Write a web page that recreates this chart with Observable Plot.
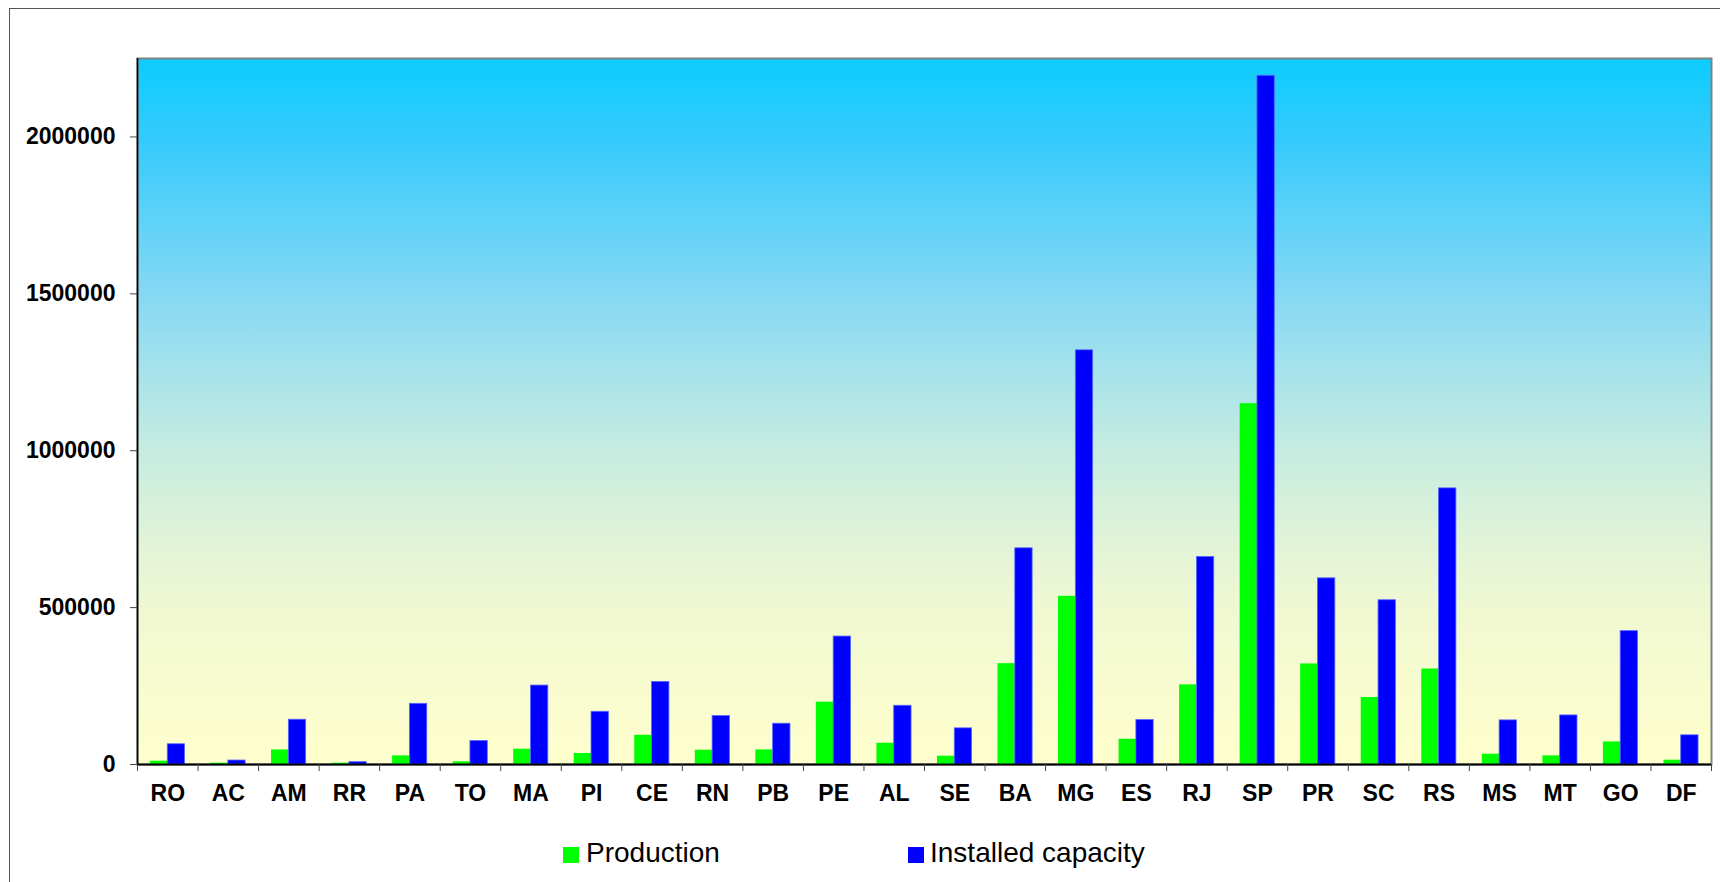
<!DOCTYPE html>
<html>
<head>
<meta charset="utf-8">
<script src="https://cdn.jsdelivr.net/npm/d3@7"></script>
<script src="https://cdn.jsdelivr.net/npm/@observablehq/plot@0.6"></script>
<style>
  html, body { margin: 0; padding: 0; background: #fff; }
  #page { position: relative; width: 1720px; height: 882px; overflow: hidden; font-family: "Liberation Sans", Arial, sans-serif; }
  #outer { position: absolute; left: 9px; top: 8px; width: 1720px; height: 900px; border-left: 1px solid #555; border-top: 1px solid #555; box-sizing: border-box; }
  #chart { position: absolute; left: 0; top: 0; }
  .lg-sw { position: absolute; width: 15.5px; height: 15.5px; }
  .lg-tx { position: absolute; font-size: 28px; line-height: 28px; color: #000; white-space: nowrap; }
</style>
</head>
<body>
<div id="page">
  <div id="outer"></div>
  <div id="chart"></div>
  <div id="legend"></div>
</div>
<script>
const states = ["RO","AC","AM","RR","PA","TO","MA","PI","CE","RN","PB","PE","AL","SE","BA","MG","ES","RJ","SP","PR","SC","RS","MS","MT","GO","DF"];
const production = [10600, 4200, 46500, 4200, 27500, 8500, 48700, 35000, 93000, 45500, 46500, 198800, 67700, 26400, 321400, 536000, 80400, 253800, 1150000, 320500, 213500, 304400, 32800, 27500, 71900, 13700];
const capacity = [64500, 12700, 142700, 7400, 193400, 75000, 251600, 168000, 263200, 154400, 130000, 407800, 187200, 115200, 689000, 1320000, 141700, 661500, 2195000, 593300, 523500, 880000, 140600, 156400, 425000, 93000];
const yTicks = [0, 500000, 1000000, 1500000, 2000000];
const seriesNames = ["Production", "Installed capacity"];
const seriesColors = ["#00ff00", "#0000ff"];

const rows = states.map((s, i) => ({state: s, production: production[i], capacity: capacity[i]}));

const W = 1720, H = 830, ML = 137, MR = 9, MT = 58, MB = 66;
const bw = (W - ML - MR) / states.length;
const barW = bw * 0.286;

const chart = Plot.plot({
  width: W,
  height: H,
  marginLeft: ML,
  marginRight: MR,
  marginTop: MT,
  marginBottom: MB,
  style: {fontFamily: "'Liberation Sans', Arial, sans-serif", fontSize: "23px", fontWeight: "bold", color: "#000", background: "transparent", overflow: "visible"},
  x: {type: "band", domain: states, padding: 0, round: false, label: null},
  y: {domain: [0, 2250000], label: null},
  marks: [
    Plot.frame({fill: "url(#bgGrad)", stroke: "#788484", strokeWidth: 2}),
    Plot.barY(rows, {x: "state", y: "production", fill: seriesColors[0], insetLeft: bw / 2 - barW, insetRight: bw / 2}),
    Plot.barY(rows, {x: "state", y: "capacity", fill: seriesColors[1], stroke: "#5566ff", strokeWidth: 0.8, insetLeft: bw / 2, insetRight: bw / 2 - barW}),
    Plot.ruleX([states[0]], {x: d => d, dx: -bw / 2, stroke: "#000", strokeWidth: 1.6}),
    Plot.ruleY([0], {stroke: "#000", strokeWidth: 2}),
    Plot.ruleX(states, {x: d => d, y1: 0, y2: 0, dx: -bw / 2, insetBottom: -7, stroke: "#444", strokeWidth: 1}),
    Plot.ruleX([states[states.length - 1]], {x: d => d, y1: 0, y2: 0, dx: bw / 2, insetBottom: -7, stroke: "#444", strokeWidth: 1}),
    Plot.axisY({ticks: yTicks, tickFormat: d => String(d), tickSize: 7, tickPadding: 15, stroke: "#444", fill: "#000", label: null}),
    Plot.axisX({tickSize: 0, tickPadding: 20, fill: "#000", label: null})
  ]
});

// gradient definition for plot background
const ns = "http://www.w3.org/2000/svg";
const defs = document.createElementNS(ns, "defs");
const grad = document.createElementNS(ns, "linearGradient");
grad.setAttribute("id", "bgGrad");
grad.setAttribute("x1", "0"); grad.setAttribute("y1", "0");
grad.setAttribute("x2", "0"); grad.setAttribute("y2", "1");
[[0, "#0DCCFF"], [0.12, "#36CBFC"], [0.33, "#84D8F4"], [0.45, "#A8E3EA"], [0.555, "#C6ECE0"], [0.70, "#E4F4D6"], [0.78, "#F0F8D2"], [1, "#FFFFCC"]].forEach(([o, c]) => {
  const st = document.createElementNS(ns, "stop");
  st.setAttribute("offset", o);
  st.setAttribute("stop-color", c);
  grad.appendChild(st);
});
defs.appendChild(grad);
chart.insertBefore(defs, chart.firstChild);

document.getElementById("chart").appendChild(chart);

// legend below the chart
const legend = document.getElementById("legend");
const legendPos = [{sw: 563, tx: 586}, {sw: 908, tx: 930}];
seriesNames.forEach((name, i) => {
  const sw = document.createElement("div");
  sw.className = "lg-sw";
  sw.style.left = legendPos[i].sw + "px";
  sw.style.top = "847px";
  sw.style.background = seriesColors[i];
  legend.appendChild(sw);
  const tx = document.createElement("div");
  tx.className = "lg-tx";
  tx.style.left = legendPos[i].tx + "px";
  tx.style.top = "839px";
  tx.textContent = name;
  legend.appendChild(tx);
});
</script>
</body>
</html>
